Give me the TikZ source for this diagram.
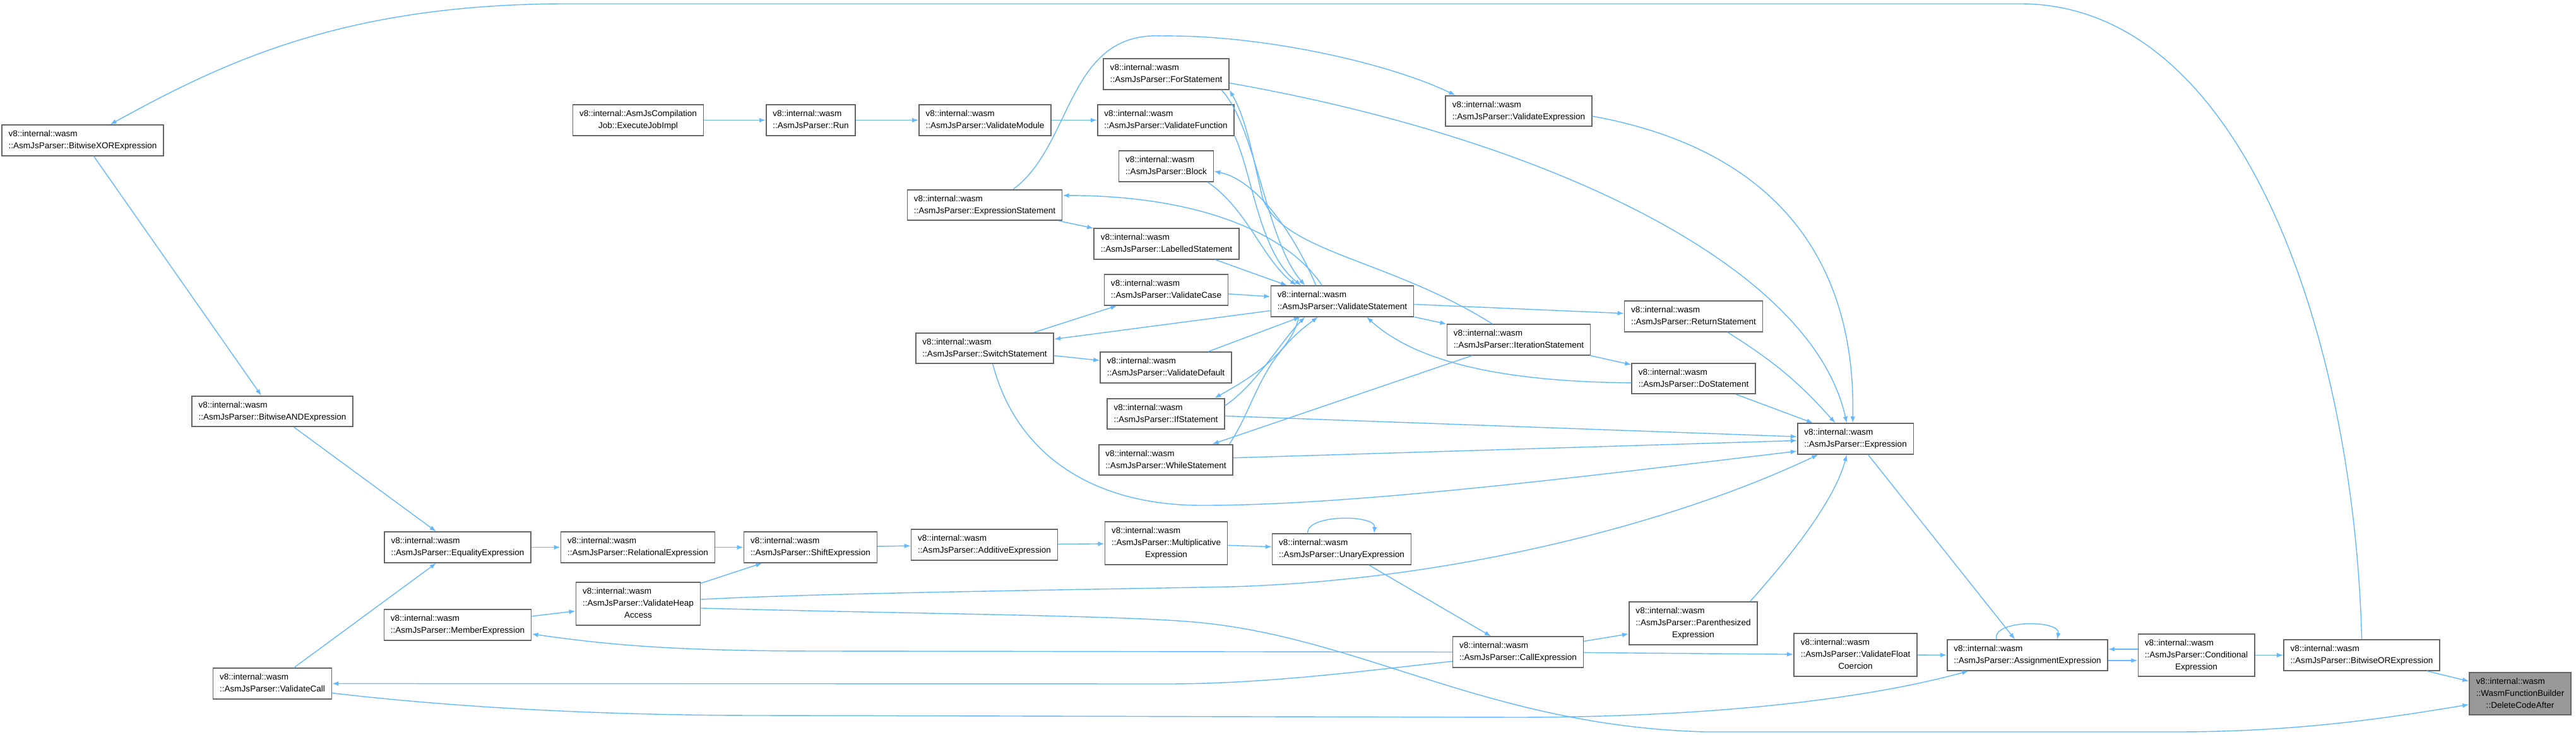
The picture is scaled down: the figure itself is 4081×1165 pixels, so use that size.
\documentclass[tikz,border=0pt]{standalone}
\usepackage{fontspec}
\usepackage{xcolor}
\usepackage{tikz}
\usetikzlibrary{arrows.meta}
\definecolor{EdgeBlue}{HTML}{63B8FF}
\definecolor{BoxEdge}{HTML}{666666}
\definecolor{FocusFill}{HTML}{999999}
\newfontfamily\graphfont{Liberation Sans}
\newcommand{\twoline}[2]{\begin{tabular}{@{}l@{}}#1\\\multicolumn{1}{@{}c@{}}{#2}\end{tabular}}
\newcommand{\threeline}[3]{\begin{tabular}{@{}l@{}}#1\\#2\\\multicolumn{1}{@{}c@{}}{#3}\end{tabular}}

\begin{document}
\begin{tikzpicture}[
    x=0.01cm, y=-0.01cm,
    fn/.style={
      draw=BoxEdge,
      fill=white,
      line width=0.45pt,
      inner xsep=3pt,
      inner ysep=1.5pt,
      font=\graphfont\fontsize{3.85}{5.4}\selectfont
    },
    focus/.style={
      fn,
      fill=FocusFill
    },
    flow/.style={
      -{Latex[length=2.9pt,width=2.1pt]},
      draw=EdgeBlue,
      line width=0.4pt
    }
  ]
    \useasboundingbox (0,0) rectangle (4081,1165);

    \node[fn] (executejob) at (1011,190.5) {\twoline{v8::internal::AsmJsCompilation}{Job::ExecuteJobImpl}};
    \node[fn] (run) at (1284.5,190.5) {\twoline{v8::internal::wasm}{::AsmJsParser::Run}};
    \node[fn] (module) at (1560.5,190.5) {\twoline{v8::internal::wasm}{::AsmJsParser::ValidateModule}};
    \node[fn] (function) at (1847,190.5) {\twoline{v8::internal::wasm}{::AsmJsParser::ValidateFunction}};
    \node[fn] (forstmt) at (1847.5,117.5) {\twoline{v8::internal::wasm}{::AsmJsParser::ForStatement}};
    \node[fn] (validateexpr) at (2406,176) {\twoline{v8::internal::wasm}{::AsmJsParser::ValidateExpression}};
    \node[fn] (block) at (1847.5,263.5) {\twoline{v8::internal::wasm}{::AsmJsParser::Block}};
    \node[fn] (exprstmt) at (1560,325) {\twoline{v8::internal::wasm}{::AsmJsParser::ExpressionStatement}};
    \node[fn] (labelled) at (1848,386.5) {\twoline{v8::internal::wasm}{::AsmJsParser::LabelledStatement}};
    \node[fn] (validatecase) at (1847.5,459.5) {\twoline{v8::internal::wasm}{::AsmJsParser::ValidateCase}};
    \node[fn] (stmt) at (2126.5,477.5) {\twoline{v8::internal::wasm}{::AsmJsParser::ValidateStatement}};
    \node[fn] (switchstmt) at (1560,552) {\twoline{v8::internal::wasm}{::AsmJsParser::SwitchStatement}};
    \node[fn] (validatedefault) at (1847,582.5) {\twoline{v8::internal::wasm}{::AsmJsParser::ValidateDefault}};
    \node[fn] (ifstmt) at (1847,656) {\twoline{v8::internal::wasm}{::AsmJsParser::IfStatement}};
    \node[fn] (whilestmt) at (1847,729) {\twoline{v8::internal::wasm}{::AsmJsParser::WhileStatement}};
    \node[fn] (iteration) at (2406,538.5) {\twoline{v8::internal::wasm}{::AsmJsParser::IterationStatement}};
    \node[fn] (returnstmt) at (2683,501.5) {\twoline{v8::internal::wasm}{::AsmJsParser::ReturnStatement}};
    \node[fn] (dostmt) at (2683,600) {\twoline{v8::internal::wasm}{::AsmJsParser::DoStatement}};
    \node[fn] (expression) at (2939.5,695.5) {\twoline{v8::internal::wasm}{::AsmJsParser::Expression}};

    \node[fn] (xorexpr) at (131,222.5) {\twoline{v8::internal::wasm}{::AsmJsParser::BitwiseXORExpression}};
    \node[fn] (andexpr) at (431.5,652) {\twoline{v8::internal::wasm}{::AsmJsParser::BitwiseANDExpression}};
    \node[fn] (equality) at (725,867.5) {\twoline{v8::internal::wasm}{::AsmJsParser::EqualityExpression}};
    \node[fn] (relational) at (1010.5,867.5) {\twoline{v8::internal::wasm}{::AsmJsParser::RelationalExpression}};
    \node[fn] (shift) at (1284,867.5) {\twoline{v8::internal::wasm}{::AsmJsParser::ShiftExpression}};
    \node[fn] (additive) at (1559.5,863.5) {\twoline{v8::internal::wasm}{::AsmJsParser::AdditiveExpression}};
    \node[fn] (multiplicative) at (1847.5,861) {\threeline{v8::internal::wasm}{::AsmJsParser::Multiplicative}{Expression}};
    \node[fn] (unary) at (2125.5,870.5) {\twoline{v8::internal::wasm}{::AsmJsParser::UnaryExpression}};
    \node[fn] (heapaccess) at (1011,957) {\threeline{v8::internal::wasm}{::AsmJsParser::ValidateHeap}{Access}};
    \node[fn] (member) at (725,990.5) {\twoline{v8::internal::wasm}{::AsmJsParser::MemberExpression}};
    \node[fn] (validatecall) at (431.5,1083.5) {\twoline{v8::internal::wasm}{::AsmJsParser::ValidateCall}};
    \node[fn] (callexpr) at (2405,1033.5) {\twoline{v8::internal::wasm}{::AsmJsParser::CallExpression}};
    \node[fn] (parenthesized) at (2682.5,988) {\threeline{v8::internal::wasm}{::AsmJsParser::Parenthesized}{Expression}};
    \node[fn] (floatcoercion) at (2939.5,1038) {\threeline{v8::internal::wasm}{::AsmJsParser::ValidateFloat}{Coercion}};
    \node[fn] (assignment) at (3212,1038.5) {\twoline{v8::internal::wasm}{::AsmJsParser::AssignmentExpression}};
    \node[fn] (conditional) at (3479.5,1038.5) {\threeline{v8::internal::wasm}{::AsmJsParser::Conditional}{Expression}};
    \node[fn] (bitwiseor) at (3741.5,1038.5) {\twoline{v8::internal::wasm}{::AsmJsParser::BitwiseORExpression}};
    \node[focus] (deletecode) at (3992.5,1099.5) {\threeline{v8::internal::wasm}{::WasmFunctionBuilder}{::DeleteCodeAfter}};

    \draw[flow] (executejob) -- (run);
    \draw[flow] (run) -- (module);
    \draw[flow] (module) -- (function);
    \draw[flow] (function.south east) .. controls (1985,280) and (1995,400) .. (stmt.159);
    \draw[flow] (forstmt.-16) .. controls (1990,200) and (2005,380) .. (stmt.157);
    \draw[flow] (block.-21) .. controls (1975,330) and (2000,410) .. (stmt.161);
    \draw[flow] (labelled.-18) -- (stmt.164);
    \draw[flow] (stmt.149) .. controls (2050,370) and (1990,285) .. (block.-6);
    \draw[flow] (stmt.142) .. controls (2040,370) and (1900,310) .. (exprstmt.7);
    \draw[flow] (exprstmt) -- (labelled);
    \draw[flow] (exprstmt.29) .. controls (1700,230) and (1690,50) .. (1840,57) .. controls (2000,55) and (2200,100) .. (validateexpr.166);
    \draw[flow] (validatecase) -- (stmt);
    \draw[flow] (stmt) -- (switchstmt);
    \draw[flow] (switchstmt) -- (validatecase);
    \draw[flow] (switchstmt) -- (validatedefault);
    \draw[flow] (validatedefault) -- (stmt);
    \draw[flow] (stmt.200) .. controls (2045,560) and (1980,600) .. (ifstmt.18);
    \draw[flow] (ifstmt.8) .. controls (1990,610) and (2030,540) .. (stmt.203);
    \draw[flow] (whilestmt.14) .. controls (1990,640) and (1995,570) .. (stmt.213);
    \draw[flow] (stmt) -- (returnstmt);
    \draw[flow] (stmt) -- (iteration);
    \draw[flow] (iteration) -- (dostmt);
    \draw[flow] (iteration) -- (whilestmt);
    \draw[flow] (iteration.149) .. controls (2200,410) and (2030,400) .. (2000,313) .. controls (1985,250) and (1975,190) .. (forstmt.south east);
    \draw[flow] (dostmt.184) .. controls (2400,605) and (2250,580) .. (stmt.-33);

    \draw[flow] (forstmt.-8) .. controls (2450,220) and (2870,420) .. (expression.119);
    \draw[flow] (validateexpr.-4) .. controls (2830,240) and (2940,430) .. (expression.100);
    \draw[flow] (returnstmt.-25) to[bend left=8] (expression.142);
    \draw[flow] (dostmt) -- (expression);
    \draw[flow] (ifstmt) -- (expression);
    \draw[flow] (whilestmt) -- (expression);
    \draw[flow] (switchstmt.-63) .. controls (1610,720) and (1730,800) .. (1900,801) .. controls (2150,802) and (2550,750) .. (expression.192);
    \draw[flow] (heapaccess.4) .. controls (1300,940) and (1700,935) .. (1950,930) .. controls (2300,920) and (2650,830) .. (expression.203);
    \draw[flow] (parenthesized.21) .. controls (2820,900) and (2905,800) .. (expression.-119);

    \draw[flow] (xorexpr) -- (andexpr);
    \draw[flow] (andexpr) -- (equality);
    \draw[flow] (equality) -- (relational);
    \draw[flow] (relational) -- (shift);
    \draw[flow] (shift) -- (additive);
    \draw[flow] (additive) -- (multiplicative);
    \draw[flow] (multiplicative) -- (unary);
    \draw[flow] (unary.155) .. controls (2068,815) and (2180,815) .. (unary.26);
    \draw[flow] (unary) -- (callexpr);
    \draw[flow] (callexpr) -- (parenthesized);
    \draw[flow] (callexpr) -- (floatcoercion);
    \draw[flow] (callexpr.west) -- (1300,1032) .. controls (1050,1032) and (950,1020) .. (member.-7);
    \draw[flow] (callexpr.188) .. controls (2150,1065) and (2000,1084) .. (1850,1084) -- (validatecall.east);
    \draw[flow] (validatecall) -- (equality);
    \draw[flow] (member) -- (heapaccess);
    \draw[flow] (heapaccess) -- (shift);
    \draw[flow] (validatecall.-9) .. controls (750,1125) and (1000,1134) .. (1200,1134) -- (2400,1137) .. controls (2700,1137) and (2950,1110) .. (assignment.195);
    \draw[flow] (heapaccess.-4) .. controls (1400,972) and (1750,975) .. (1880,985) .. controls (2150,1005) and (2350,1150) .. (2700,1160) -- (3450,1160) .. controls (3650,1160) and (3800,1135) .. (deletecode.192);

    \draw[flow] (expression) -- (assignment);
    \draw[flow] (floatcoercion) -- (assignment);
    \draw[flow] (assignment.153) .. controls (3155,982) and (3265,982) .. (assignment.28);
    \draw[flow] ([yshift=2.7pt]conditional.west) -- ([yshift=2.7pt]assignment.east);
    \draw[flow] ([yshift=-2.4pt]assignment.east) -- ([yshift=-2.4pt]conditional.west);
    \draw[flow] (conditional) -- (bitwiseor);
    \draw[flow] (bitwiseor) -- (deletecode);
    \draw[flow] (bitwiseor.north) .. controls (3730,550) and (3560,6) .. (3200,6) -- (900,6) .. controls (550,6) and (360,95) .. (xorexpr.30);
  \end{tikzpicture}
\end{document}
